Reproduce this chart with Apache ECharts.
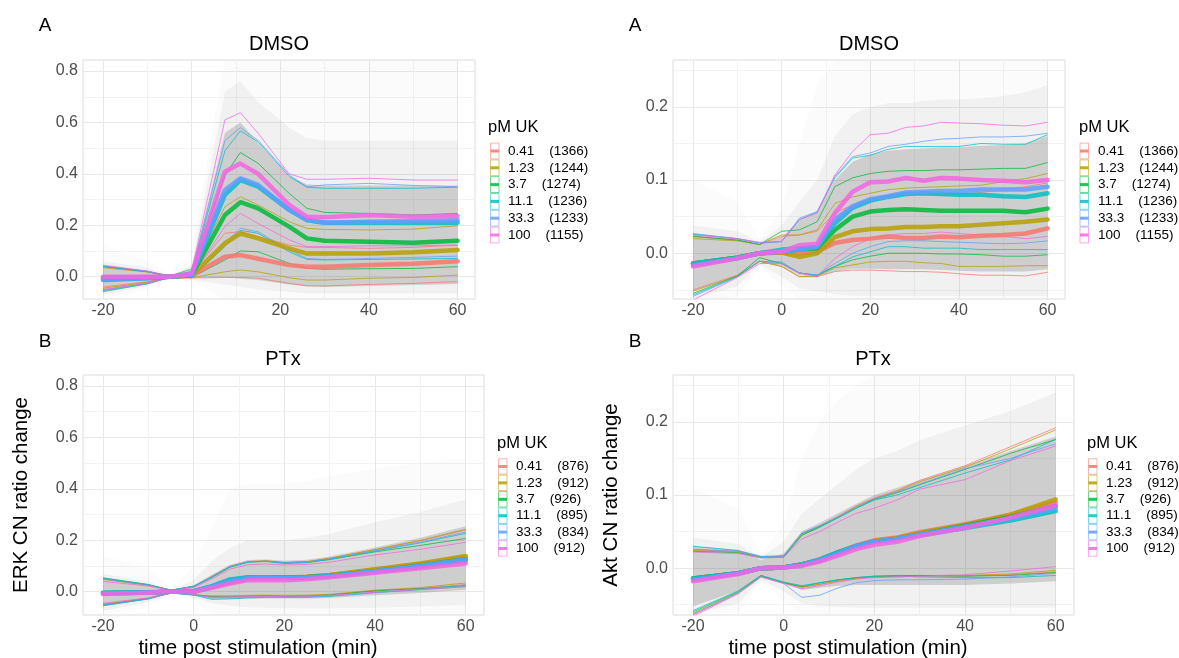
<!DOCTYPE html>
<html lang="en">
<head>
<meta charset="utf-8">
<title>ERK / Akt CN ratio change</title>
<style>
html, body { margin: 0; padding: 0; background: #fff; }
#main { width: 1179px; height: 658px; }
</style>
</head>
<body>
<div id="main"></div>
<script src="https://cdn.jsdelivr.net/npm/echarts@6.0.0/dist/echarts.min.js"></script>
<script>
var doses = ['0.41', '1.23', '3.7', '11.1', '33.3', '100'];
var doseColors = ['#F8766D', '#B79F00', '#00BA38', '#00BFC4', '#619CFF', '#F564E3'];
var countsDmso = [1366, 1244, 1274, 1236, 1233, 1155];
var countsPtx = [876, 912, 926, 895, 834, 912];

// ---- ERK, DMSO ----
var timeErkDmso = [-20, -10, -5, 0, 7.5, 11, 15, 22, 26, 30, 40, 50, 60];
var erkDmsoMedian = [
  [-0.005, -0.003, 0, 0.004, 0.078, 0.084, 0.070, 0.045, 0.039, 0.039, 0.045, 0.050, 0.060],
  [-0.008, -0.004, 0, 0.005, 0.130, 0.168, 0.149, 0.110, 0.090, 0.090, 0.090, 0.095, 0.104],
  [-0.004, -0.002, 0, 0.006, 0.240, 0.290, 0.266, 0.195, 0.149, 0.140, 0.136, 0.132, 0.140],
  [-0.013, -0.006, 0, 0.007, 0.318, 0.376, 0.350, 0.260, 0.220, 0.210, 0.210, 0.210, 0.210],
  [-0.010, -0.005, 0, 0.008, 0.337, 0.383, 0.357, 0.260, 0.220, 0.210, 0.214, 0.216, 0.220],
  [0.000, 0.000, 0, 0.010, 0.408, 0.440, 0.400, 0.279, 0.233, 0.231, 0.240, 0.233, 0.236]
];
var erkDmsoUpper = [
  [0.040, 0.020, 0.002, 0.012, 0.169, 0.175, 0.156, 0.123, 0.114, 0.114, 0.110, 0.114, 0.123],
  [0.035, 0.018, 0.002, 0.015, 0.272, 0.311, 0.279, 0.214, 0.188, 0.184, 0.182, 0.185, 0.198],
  [0.040, 0.020, 0.002, 0.030, 0.395, 0.483, 0.441, 0.324, 0.266, 0.250, 0.246, 0.240, 0.246],
  [0.040, 0.020, 0.003, 0.020, 0.490, 0.567, 0.525, 0.390, 0.348, 0.344, 0.344, 0.344, 0.348],
  [0.042, 0.021, 0.003, 0.020, 0.530, 0.580, 0.530, 0.396, 0.350, 0.357, 0.363, 0.355, 0.350],
  [0.045, 0.022, 0.003, 0.022, 0.610, 0.638, 0.558, 0.400, 0.379, 0.379, 0.383, 0.376, 0.376]
];
var erkDmsoLower = [
  [-0.040, -0.020, -0.002, -0.005, -0.003, -0.003, -0.006, -0.026, -0.035, -0.036, -0.030, -0.026, -0.019],
  [-0.045, -0.022, -0.002, -0.004, 0.019, 0.026, 0.019, -0.004, -0.013, -0.013, -0.006, -0.003, 0.006],
  [-0.058, -0.028, -0.003, -0.003, 0.065, 0.100, 0.097, 0.052, 0.032, 0.029, 0.031, 0.032, 0.039],
  [-0.052, -0.026, -0.003, -0.002, 0.117, 0.180, 0.169, 0.097, 0.067, 0.065, 0.067, 0.069, 0.071],
  [-0.055, -0.027, -0.003, -0.002, 0.130, 0.188, 0.175, 0.104, 0.071, 0.067, 0.071, 0.075, 0.080],
  [-0.050, -0.025, -0.003, 0.000, 0.195, 0.246, 0.207, 0.143, 0.117, 0.117, 0.120, 0.120, 0.123]
];
// single-cell cloud envelopes (faint / mid / dense)
var erkDmsoOuterLo = [-0.086, -0.050, -0.005, -0.020, -0.086, -0.086, -0.086, -0.086, -0.086, -0.086, -0.086, -0.086, -0.086];
var erkDmsoOuterHi = [0.120, 0.060, 0.005, 0.100, 0.842, 0.842, 0.842, 0.842, 0.842, 0.842, 0.842, 0.842, 0.842];
var erkDmsoMidLo = [-0.070, -0.036, -0.004, -0.012, -0.030, -0.040, -0.050, -0.060, -0.065, -0.065, -0.065, -0.065, -0.065];
var erkDmsoMidHi = [0.060, 0.035, 0.004, 0.045, 0.720, 0.760, 0.680, 0.580, 0.540, 0.530, 0.530, 0.530, 0.530];
var erkDmsoCoreLo = [-0.055, -0.027, -0.002, -0.005, -0.003, -0.008, -0.013, -0.030, -0.038, -0.040, -0.036, -0.032, -0.028];
var erkDmsoCoreHi = [0.044, 0.022, 0.002, 0.022, 0.560, 0.600, 0.520, 0.390, 0.360, 0.355, 0.355, 0.355, 0.355];

// ---- Akt, DMSO ----
var timeAktDmso = [-20, -10, -5, 0, 4, 8, 12, 16, 20, 24, 28, 32, 36, 40, 45, 50, 55, 60];
var aktDmsoMedian = [
  [-0.014, -0.006, 0, 0.001, 0.000, 0.002, 0.014, 0.018, 0.020, 0.023, 0.021, 0.021, 0.023, 0.022, 0.024, 0.025, 0.027, 0.034],
  [-0.014, -0.006, 0, 0.001, -0.005, 0.000, 0.022, 0.030, 0.033, 0.034, 0.036, 0.036, 0.037, 0.037, 0.039, 0.041, 0.043, 0.046],
  [-0.014, -0.006, 0, 0.002, 0.005, 0.007, 0.032, 0.050, 0.057, 0.059, 0.060, 0.059, 0.058, 0.058, 0.058, 0.058, 0.056, 0.061],
  [-0.014, -0.006, 0, 0.005, 0.007, 0.009, 0.041, 0.062, 0.072, 0.077, 0.081, 0.082, 0.081, 0.080, 0.080, 0.078, 0.077, 0.082],
  [-0.016, -0.007, 0, 0.002, 0.005, 0.009, 0.046, 0.064, 0.074, 0.078, 0.083, 0.084, 0.085, 0.085, 0.087, 0.087, 0.087, 0.091],
  [-0.018, -0.007, 0, 0.002, 0.011, 0.013, 0.055, 0.084, 0.097, 0.098, 0.103, 0.099, 0.103, 0.102, 0.100, 0.099, 0.097, 0.100]
];
var aktDmsoUpper = [
  [0.023, 0.018, 0.012, 0.023, 0.025, 0.030, 0.055, 0.066, 0.073, 0.077, 0.081, 0.080, 0.080, 0.081, 0.083, 0.087, 0.091, 0.096],
  [0.020, 0.017, 0.012, 0.025, 0.025, 0.032, 0.068, 0.077, 0.082, 0.087, 0.089, 0.090, 0.091, 0.092, 0.093, 0.098, 0.102, 0.109],
  [0.023, 0.018, 0.012, 0.030, 0.032, 0.043, 0.091, 0.103, 0.109, 0.112, 0.113, 0.113, 0.114, 0.114, 0.115, 0.116, 0.116, 0.124],
  [0.026, 0.020, 0.014, 0.016, 0.046, 0.056, 0.103, 0.130, 0.134, 0.142, 0.146, 0.146, 0.146, 0.146, 0.150, 0.149, 0.149, 0.162],
  [0.027, 0.020, 0.014, 0.016, 0.048, 0.057, 0.105, 0.132, 0.137, 0.146, 0.149, 0.153, 0.156, 0.157, 0.159, 0.159, 0.160, 0.164],
  [0.025, 0.020, 0.015, 0.016, 0.046, 0.055, 0.107, 0.139, 0.162, 0.164, 0.172, 0.174, 0.179, 0.178, 0.177, 0.175, 0.174, 0.179]
];
var aktDmsoLower = [
  [-0.050, -0.030, -0.011, -0.018, -0.032, -0.032, -0.025, -0.023, -0.023, -0.024, -0.025, -0.025, -0.026, -0.028, -0.030, -0.030, -0.031, -0.026],
  [-0.052, -0.031, -0.011, -0.018, -0.032, -0.031, -0.020, -0.016, -0.012, -0.011, -0.011, -0.013, -0.014, -0.018, -0.018, -0.018, -0.017, -0.017],
  [-0.055, -0.031, -0.006, -0.014, -0.027, -0.030, -0.018, -0.009, -0.004, 0.000, 0.000, 0.000, -0.001, -0.001, -0.002, -0.004, -0.004, -0.002],
  [-0.057, -0.032, -0.011, -0.012, -0.027, -0.030, -0.018, -0.005, 0.002, 0.009, 0.009, 0.007, 0.007, 0.007, 0.005, 0.005, 0.005, 0.005],
  [-0.059, -0.032, -0.011, -0.014, -0.027, -0.030, -0.014, 0.000, 0.009, 0.016, 0.017, 0.017, 0.016, 0.015, 0.014, 0.013, 0.014, 0.017],
  [-0.064, -0.033, -0.014, -0.014, -0.027, -0.032, -0.007, 0.009, 0.020, 0.025, 0.027, 0.027, 0.029, 0.027, 0.025, 0.023, 0.020, 0.023]
];
var aktDmsoOuterLo = [-0.062, -0.060, -0.018, -0.045, -0.062, -0.062, -0.062, -0.062, -0.062, -0.062, -0.062, -0.062, -0.062, -0.062, -0.062, -0.062, -0.062, -0.062];
var aktDmsoOuterHi = [0.100, 0.070, 0.018, 0.060, 0.150, 0.230, 0.263, 0.263, 0.263, 0.263, 0.263, 0.263, 0.263, 0.263, 0.263, 0.263, 0.263, 0.263];
var aktDmsoMidLo = [-0.062, -0.045, -0.015, -0.032, -0.048, -0.052, -0.056, -0.058, -0.058, -0.058, -0.058, -0.058, -0.058, -0.058, -0.058, -0.058, -0.058, -0.058];
var aktDmsoMidHi = [0.038, 0.030, 0.015, 0.038, 0.070, 0.100, 0.160, 0.190, 0.200, 0.205, 0.205, 0.208, 0.210, 0.210, 0.212, 0.215, 0.220, 0.230];
var aktDmsoCoreLo = [-0.052, -0.031, -0.012, -0.017, -0.030, -0.032, -0.025, -0.021, -0.021, -0.022, -0.022, -0.022, -0.023, -0.024, -0.025, -0.025, -0.025, -0.022];
var aktDmsoCoreHi = [0.026, 0.020, 0.012, 0.022, 0.045, 0.056, 0.100, 0.125, 0.135, 0.140, 0.142, 0.143, 0.145, 0.145, 0.147, 0.148, 0.150, 0.160];

// ---- PTx (both ERK and Akt) ----
var timePtx = [-20, -10, -5, 0, 4, 8, 12, 16, 20, 25, 30, 40, 50, 60];
var erkPtxMedian = [
  [-0.006, -0.003, 0, 0.000, 0.017, 0.036, 0.050, 0.053, 0.053, 0.057, 0.064, 0.085, 0.108, 0.134],
  [-0.006, -0.003, 0, 0.000, 0.019, 0.039, 0.052, 0.054, 0.054, 0.058, 0.065, 0.087, 0.110, 0.139],
  [-0.005, -0.003, 0, 0.001, 0.020, 0.045, 0.055, 0.056, 0.055, 0.057, 0.062, 0.080, 0.102, 0.126],
  [-0.004, -0.002, 0, 0.002, 0.022, 0.048, 0.056, 0.056, 0.055, 0.056, 0.061, 0.078, 0.098, 0.120],
  [-0.006, -0.003, 0, 0.001, 0.020, 0.042, 0.053, 0.054, 0.053, 0.055, 0.060, 0.080, 0.101, 0.126],
  [-0.009, -0.004, 0, 0.000, 0.015, 0.032, 0.045, 0.046, 0.045, 0.048, 0.056, 0.074, 0.091, 0.110]
];
var erkPtxUpper = [
  [0.050, 0.026, 0.006, 0.020, 0.060, 0.098, 0.117, 0.120, 0.113, 0.117, 0.130, 0.163, 0.198, 0.240],
  [0.048, 0.025, 0.006, 0.020, 0.058, 0.097, 0.117, 0.120, 0.114, 0.117, 0.130, 0.164, 0.200, 0.243],
  [0.052, 0.027, 0.006, 0.020, 0.055, 0.095, 0.115, 0.118, 0.110, 0.113, 0.125, 0.155, 0.180, 0.207],
  [0.054, 0.028, 0.006, 0.022, 0.058, 0.098, 0.116, 0.118, 0.112, 0.115, 0.126, 0.158, 0.190, 0.227],
  [0.050, 0.026, 0.006, 0.020, 0.057, 0.097, 0.116, 0.119, 0.113, 0.116, 0.128, 0.160, 0.193, 0.232],
  [0.040, 0.022, 0.005, 0.016, 0.050, 0.088, 0.105, 0.108, 0.104, 0.106, 0.115, 0.143, 0.165, 0.192]
];
var erkPtxLower = [
  [-0.050, -0.026, -0.004, -0.012, -0.018, -0.018, -0.016, -0.015, -0.016, -0.016, -0.012, 0.004, 0.013, 0.028],
  [-0.048, -0.025, -0.004, -0.012, -0.016, -0.016, -0.014, -0.013, -0.014, -0.013, -0.010, 0.006, 0.016, 0.034],
  [-0.052, -0.027, -0.004, -0.012, -0.020, -0.020, -0.018, -0.017, -0.018, -0.017, -0.013, 0.003, 0.012, 0.024],
  [-0.055, -0.028, -0.005, -0.013, -0.030, -0.028, -0.024, -0.022, -0.022, -0.022, -0.018, -0.004, 0.008, 0.020],
  [-0.053, -0.027, -0.005, -0.012, -0.024, -0.024, -0.022, -0.020, -0.020, -0.020, -0.016, -0.002, 0.010, 0.026],
  [-0.045, -0.024, -0.004, -0.010, -0.022, -0.020, -0.018, -0.018, -0.018, -0.017, -0.014, -0.002, 0.009, 0.019]
];
var erkPtxOuterLo = [-0.090, -0.060, -0.007, -0.030, -0.090, -0.090, -0.090, -0.090, -0.090, -0.090, -0.090, -0.090, -0.090, -0.090];
var erkPtxOuterHi = [0.140, 0.090, 0.007, 0.100, 0.250, 0.400, 0.420, 0.420, 0.420, 0.430, 0.450, 0.480, 0.500, 0.520];
var erkPtxMidLo = [-0.075, -0.040, -0.006, -0.022, -0.045, -0.055, -0.060, -0.062, -0.064, -0.065, -0.065, -0.062, -0.058, -0.052];
var erkPtxMidHi = [0.070, 0.040, 0.006, 0.045, 0.120, 0.170, 0.200, 0.200, 0.200, 0.210, 0.225, 0.270, 0.310, 0.360];
var erkPtxCoreLo = [-0.056, -0.030, -0.004, -0.014, -0.028, -0.028, -0.027, -0.026, -0.026, -0.026, -0.024, -0.014, -0.005, 0.008];
var erkPtxCoreHi = [0.056, 0.030, 0.004, 0.024, 0.066, 0.105, 0.123, 0.125, 0.120, 0.124, 0.137, 0.172, 0.210, 0.255];

var aktPtxMedian = [
  [-0.014, -0.007, 0, 0.001, 0.005, 0.012, 0.022, 0.031, 0.038, 0.042, 0.049, 0.060, 0.073, 0.090],
  [-0.014, -0.007, 0, 0.001, 0.005, 0.011, 0.021, 0.030, 0.037, 0.041, 0.048, 0.059, 0.073, 0.094],
  [-0.014, -0.007, 0, 0.001, 0.005, 0.011, 0.021, 0.030, 0.036, 0.040, 0.046, 0.058, 0.070, 0.085],
  [-0.014, -0.007, 0, 0.001, 0.005, 0.012, 0.022, 0.030, 0.036, 0.040, 0.045, 0.055, 0.065, 0.078],
  [-0.016, -0.007, 0, 0.001, 0.004, 0.011, 0.020, 0.030, 0.036, 0.040, 0.046, 0.057, 0.068, 0.082],
  [-0.018, -0.008, 0, 0.001, 0.003, 0.009, 0.017, 0.026, 0.032, 0.036, 0.044, 0.055, 0.069, 0.086]
];
var aktPtxUpper = [
  [0.025, 0.023, 0.015, 0.016, 0.047, 0.058, 0.071, 0.085, 0.096, 0.106, 0.120, 0.140, 0.166, 0.192],
  [0.024, 0.022, 0.015, 0.016, 0.045, 0.057, 0.070, 0.084, 0.095, 0.105, 0.118, 0.138, 0.163, 0.189],
  [0.023, 0.021, 0.014, 0.015, 0.045, 0.056, 0.069, 0.082, 0.094, 0.103, 0.114, 0.135, 0.157, 0.176],
  [0.030, 0.024, 0.016, 0.017, 0.047, 0.057, 0.069, 0.082, 0.093, 0.100, 0.110, 0.130, 0.148, 0.176],
  [0.026, 0.023, 0.016, 0.016, 0.048, 0.058, 0.070, 0.083, 0.095, 0.104, 0.115, 0.136, 0.150, 0.170],
  [0.022, 0.020, 0.014, 0.015, 0.040, 0.050, 0.063, 0.075, 0.082, 0.093, 0.108, 0.121, 0.147, 0.167]
];
var aktPtxLower = [
  [-0.064, -0.034, -0.011, -0.020, -0.026, -0.022, -0.018, -0.014, -0.012, -0.012, -0.011, -0.011, -0.009, -0.005],
  [-0.062, -0.033, -0.011, -0.020, -0.026, -0.022, -0.017, -0.014, -0.012, -0.011, -0.010, -0.010, -0.008, -0.003],
  [-0.060, -0.032, -0.010, -0.020, -0.025, -0.020, -0.016, -0.013, -0.011, -0.010, -0.010, -0.011, -0.010, -0.006],
  [-0.058, -0.031, -0.010, -0.019, -0.024, -0.020, -0.016, -0.013, -0.011, -0.011, -0.012, -0.013, -0.013, -0.010],
  [-0.063, -0.034, -0.012, -0.021, -0.040, -0.037, -0.027, -0.020, -0.017, -0.016, -0.016, -0.015, -0.012, -0.007],
  [-0.066, -0.035, -0.012, -0.021, -0.028, -0.024, -0.019, -0.015, -0.013, -0.012, -0.011, -0.009, -0.004, 0.002]
];
var aktPtxOuterLo = [-0.063, -0.060, -0.018, -0.045, -0.063, -0.063, -0.063, -0.063, -0.063, -0.063, -0.063, -0.063, -0.063, -0.063];
var aktPtxOuterHi = [0.110, 0.080, 0.018, 0.060, 0.150, 0.200, 0.230, 0.250, 0.263, 0.263, 0.263, 0.263, 0.263, 0.263];
var aktPtxMidLo = [-0.063, -0.048, -0.015, -0.032, -0.048, -0.052, -0.053, -0.054, -0.054, -0.054, -0.054, -0.054, -0.054, -0.054];
var aktPtxMidHi = [0.042, 0.033, 0.015, 0.036, 0.075, 0.095, 0.115, 0.135, 0.150, 0.160, 0.175, 0.195, 0.215, 0.240];
var aktPtxCoreLo = [-0.052, -0.031, -0.011, -0.020, -0.030, -0.027, -0.024, -0.023, -0.023, -0.023, -0.023, -0.023, -0.021, -0.018];
var aktPtxCoreHi = [0.030, 0.025, 0.011, 0.020, 0.050, 0.062, 0.075, 0.088, 0.100, 0.110, 0.120, 0.140, 0.160, 0.180];

var FONT = '"Liberation Sans", Arial, sans-serif';

var panels = [
  { grid: { left: 83, top: 60, width: 392, height: 239 }, x: [-24.51, 63.92], y: [-0.0868, 0.843], yStep: 0.2, ySplit: 5,
    time: timeErkDmso, med: erkDmsoMedian, up: erkDmsoUpper, lo: erkDmsoLower,
    bands: [[erkDmsoOuterLo, erkDmsoOuterHi], [erkDmsoMidLo, erkDmsoMidHi], [erkDmsoCoreLo, erkDmsoCoreHi]] },
  { grid: { left: 673, top: 60, width: 392, height: 239 }, x: [-24.51, 63.92], y: [-0.0625, 0.2641], yStep: 0.1, ySplit: 3,
    time: timeAktDmso, med: aktDmsoMedian, up: aktDmsoUpper, lo: aktDmsoLower,
    bands: [[aktDmsoOuterLo, aktDmsoOuterHi], [aktDmsoMidLo, aktDmsoMidHi], [aktDmsoCoreLo, aktDmsoCoreHi]] },
  { grid: { left: 83, top: 375, width: 401, height: 240 }, x: [-24.41, 64.03], y: [-0.0906, 0.8428], yStep: 0.2, ySplit: 5,
    time: timePtx, med: erkPtxMedian, up: erkPtxUpper, lo: erkPtxLower,
    bands: [[erkPtxOuterLo, erkPtxOuterHi], [erkPtxMidLo, erkPtxMidHi], [erkPtxCoreLo, erkPtxCoreHi]] },
  { grid: { left: 673, top: 375, width: 401, height: 240 }, x: [-24.41, 64.03], y: [-0.0641, 0.2641], yStep: 0.1, ySplit: 3,
    time: timePtx, med: aktPtxMedian, up: aktPtxUpper, lo: aktPtxLower,
    bands: [[aktPtxOuterLo, aktPtxOuterHi], [aktPtxMidLo, aktPtxMidHi], [aktPtxCoreLo, aktPtxCoreHi]] }
];
var bandFills = ['rgba(120,120,120,0.03)', 'rgba(120,120,120,0.075)', 'rgba(110,110,110,0.27)'];

function rgba(hex, a) {
  var n = parseInt(hex.slice(1), 16);
  return 'rgba(' + (n >> 16) + ',' + ((n >> 8) & 255) + ',' + (n & 255) + ',' + a + ')';
}
function isMultiple(v, step) {
  return Math.abs(v / step - Math.round(v / step)) < 1e-6;
}
function pairs(time, vals) {
  return time.map(function (t, k) { return [t, vals[k]]; });
}
function gridValues(min, max, step) {
  var half = step / 2, out = [];
  for (var k = Math.ceil(min / half - 1e-9); k * half <= max + 1e-9; k++) {
    out.push({ v: +(k * half).toFixed(6), major: k % 2 === 0 });
  }
  return out;
}

var grids = [], xAxes = [], yAxes = [], series = [];

panels.forEach(function (p, i) {
  grids.push({ left: p.grid.left, top: p.grid.top, width: p.grid.width, height: p.grid.height,
    show: true, borderColor: '#dcdcdc', borderWidth: 1, backgroundColor: 'transparent' });
  xAxes.push({
    type: 'value', gridIndex: i, min: p.x[0], max: p.x[1],
    axisLine: { show: false }, axisTick: { show: false }, splitLine: { show: false },
    axisLabel: { color: '#4d4d4d', fontSize: 16, fontFamily: FONT, margin: 4,
      formatter: function (v) { return isMultiple(v, 20) ? String(Math.round(v)) : ''; } }
  });
  yAxes.push({
    type: 'value', gridIndex: i, min: p.y[0], max: p.y[1], splitNumber: p.ySplit,
    axisLine: { show: false }, axisTick: { show: false }, splitLine: { show: false },
    axisLabel: { color: '#4d4d4d', fontSize: 16, fontFamily: FONT, margin: 5,
      formatter: function (v) { return isMultiple(v, p.yStep) ? (Math.round(v / p.yStep) * p.yStep).toFixed(1) : ''; } }
  });

  // panel grid lines (major + minor), drawn under everything
  var ml = [];
  gridValues(p.y[0], p.y[1], p.yStep).forEach(function (g) {
    ml.push({ yAxis: g.v, lineStyle: { color: g.major ? '#e8e8e8' : '#f3f3f3', width: 1, type: 'solid' } });
  });
  gridValues(p.x[0], p.x[1], 20).forEach(function (g) {
    ml.push({ xAxis: g.v, lineStyle: { color: g.major ? '#e8e8e8' : '#f3f3f3', width: 1, type: 'solid' } });
  });
  series.push({
    type: 'line', xAxisIndex: i, yAxisIndex: i, data: [[0, 0]], symbol: 'none', silent: true, z: 1,
    lineStyle: { opacity: 0 }, animation: false,
    markLine: { silent: true, z: 1, symbol: ['none', 'none'], label: { show: false }, animation: false,
      emphasis: { disabled: true }, lineStyle: { type: 'solid' }, data: ml }
  });

  // single-cell cloud as nested envelopes
  p.bands.forEach(function (b, bi) {
    var lo = b[0], hi = b[1], time = p.time, fill = bandFills[bi];
    series.push({
      type: 'custom', xAxisIndex: i, yAxisIndex: i, z: 2, silent: true, animation: false,
      data: [[time[0], lo[0]]],
      renderItem: function (params, api) {
        var pts = [];
        for (var k = 0; k < time.length; k++) pts.push(api.coord([time[k], hi[k]]));
        for (var j = time.length - 1; j >= 0; j--) pts.push(api.coord([time[j], lo[j]]));
        return { type: 'polygon', shape: { points: pts }, style: { fill: fill } };
      }
    });
  });

  // quantile lines
  doses.forEach(function (d, di) {
    [p.up[di], p.lo[di]].forEach(function (vals) {
      series.push({
        type: 'line', xAxisIndex: i, yAxisIndex: i, data: pairs(p.time, vals), symbol: 'none',
        silent: true, animation: false, z: 3,
        lineStyle: { color: doseColors[di], width: 1, opacity: 0.75 }
      });
    });
  });
  // median lines
  doses.forEach(function (d, di) {
    series.push({
      type: 'line', xAxisIndex: i, yAxisIndex: i, data: pairs(p.time, p.med[di]), symbol: 'none',
      silent: true, animation: false, z: 4,
      lineStyle: { color: doseColors[di], width: 4.5, opacity: 0.85, join: 'round', cap: 'round' }
    });
  });
});

// titles, panel letters, axis names and legends
var graphics = [];
function txt(x, y, s, size, opts) {
  var o = { type: 'text', x: x, y: y, silent: true, z: 10,
    style: { text: s, fill: '#000', font: size + 'px ' + FONT, align: 'left', verticalAlign: 'middle' } };
  if (opts) {
    if (opts.align) o.style.align = opts.align;
    if (opts.fill) o.style.fill = opts.fill;
    if (opts.rotation) o.rotation = opts.rotation;
  }
  graphics.push(o);
}
txt(45, 26, 'A', 19, { align: 'center' });
txt(635, 26, 'A', 19, { align: 'center' });
txt(45, 342, 'B', 19, { align: 'center' });
txt(635, 342, 'B', 19, { align: 'center' });
txt(279, 44, 'DMSO', 20, { align: 'center' });
txt(869, 44, 'DMSO', 20, { align: 'center' });
txt(283, 359, 'PTx', 20, { align: 'center' });
txt(873, 359, 'PTx', 20, { align: 'center' });
txt(258, 648, 'time post stimulation (min)', 20.5, { align: 'center' });
txt(848, 648, 'time post stimulation (min)', 20.5, { align: 'center' });
txt(21, 495, 'ERK CN ratio change', 20.5, { align: 'center', rotation: Math.PI / 2 });
txt(611, 495, 'Akt CN ratio change', 20.5, { align: 'center', rotation: Math.PI / 2 });

var legendSpots = [
  { titleX: 488, titleY: 127, keyX: 490.5, textX: 508, firstY: 151, stepY: 16.8, counts: countsDmso },
  { titleX: 1079, titleY: 127, keyX: 1080, textX: 1098, firstY: 151, stepY: 16.8, counts: countsDmso },
  { titleX: 497, titleY: 443, keyX: 498.5, textX: 516, firstY: 466.5, stepY: 16.4, counts: countsPtx },
  { titleX: 1087, titleY: 443, keyX: 1088.5, textX: 1106, firstY: 466.5, stepY: 16.4, counts: countsPtx }
];
legendSpots.forEach(function (L) {
  txt(L.titleX, L.titleY, 'pM UK', 16.5);
  doses.forEach(function (d, di) {
    var cy = L.firstY + di * L.stepY;
    graphics.push({ type: 'rect', silent: true, z: 10,
      shape: { x: L.keyX, y: cy - L.stepY / 2 + 0.5, width: 8.5, height: L.stepY - 1 },
      style: { fill: '#fff', stroke: rgba(doseColors[di], 0.55), lineWidth: 1 } });
    graphics.push({ type: 'rect', silent: true, z: 11,
      shape: { x: L.keyX, y: cy - 1.5, width: 8.5, height: 3 },
      style: { fill: rgba(doseColors[di], 0.85) } });
    txt(L.textX, cy, d + '    (' + L.counts[di] + ')', 13.5);
  });
});

var chart = echarts.init(document.getElementById('main'), null, { renderer: 'canvas' });
chart.setOption({
  animation: false,
  backgroundColor: '#fff',
  grid: grids,
  xAxis: xAxes,
  yAxis: yAxes,
  series: series,
  graphic: graphics
});
</script>
</body>
</html>
